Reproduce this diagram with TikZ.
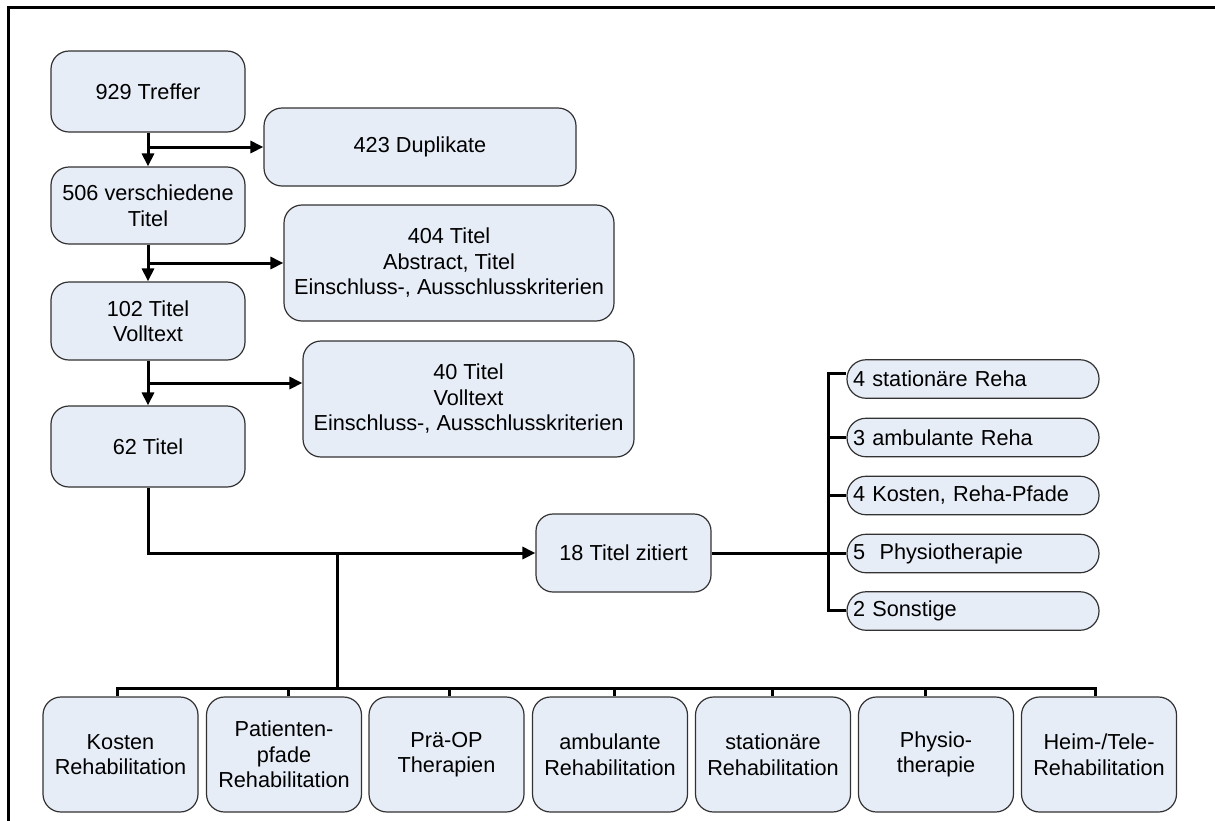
\documentclass[tikz,border=0pt]{standalone}
\usepackage{fontspec}
\setmainfont{Liberation Sans}
\usetikzlibrary{arrows.meta}
\definecolor{boxfill}{RGB}{231,237,247}
\definecolor{boxline}{RGB}{50,50,50}
\begin{document}
\begin{tikzpicture}[x=1pt,y=-1pt,
  box/.style={draw=boxline, line width=1.2pt, fill=boxfill, rounded corners=18pt,
    align=center, inner sep=0pt, font=\fontsize{21.7}{25.5}\selectfont},
  pill/.style={box, rounded corners=19pt, text width=240pt, align=left,
    inner xsep=6pt, minimum height=38.5pt},
  bot/.style={box, minimum width=155pt, minimum height=115pt},
  conn/.style={line width=3pt, black},
  arr/.style={conn, -{Triangle[length=13pt,width=12pt]}}
]
\useasboundingbox (0,0) rectangle (1215,820);
\draw[line width=3pt] (8.3,830) -- (8.3,7.8) -- (1225,7.8);

% main column
\node[box, minimum width=194pt, minimum height=81pt] (t929) at (148,91.5) {929 Treffer};
\node[box, minimum width=194pt, minimum height=77pt] (t506) at (148,205.5) {506 verschiedene\\Titel};
\node[box, minimum width=194pt, minimum height=78pt] (t102) at (148,321) {102 Titel\\Volltext};
\node[box, minimum width=194pt, minimum height=81pt] (t62) at (148,446.5) {62 Titel};

% excluded
\node[box, minimum width=312pt, minimum height=78pt] (dup) at (420,147) {423 Duplikate};
\node[box, minimum width=330pt, minimum height=116pt] (t404) at (449,263) {404 Titel\\Abstract, Titel\\Einschluss-, Ausschlusskriterien};
\node[box, minimum width=331pt, minimum height=116pt] (t40) at (468.5,399) {40 Titel\\Volltext\\Einschluss-, Ausschlusskriterien};

% cited
\node[box, rounded corners=17pt, minimum width=175pt, minimum height=78pt] (t18) at (623.5,553) {18 Titel zitiert};

% right list
\node[pill] (r1) at (973,379) {4 stationäre Reha};
\node[pill] (r2) at (973,437.5) {3 ambulante Reha};
\node[pill] (r3) at (973,495.5) {4 Kosten, Reha-Pfade};
\node[pill] (r4) at (973,553.5) {5\ \ Physiotherapie};
\node[pill] (r5) at (973,611) {2 Sonstige};

% bottom categories
\node[bot] (b1) at (120.5,754.5) {Kosten\\Rehabilitation};
\node[bot] (b2) at (284,754.5) {Patienten-\\pfade\\Rehabilitation};
\node[bot] (b3) at (446.5,754.5) {Prä-OP\\Therapien};
\node[bot] (b4) at (610,754.5) {ambulante\\Rehabilitation};
\node[bot] (b5) at (773,754.5) {stationäre\\Rehabilitation};
\node[bot] (b6) at (936,754.5) {Physio-\\therapie};
\node[bot] (b7) at (1099,754.5) {Heim-/Tele-\\Rehabilitation};

% flow connectors
\draw[arr] (t929.south) -- (t506.north);
\draw[arr] (t929.south |- dup.west) -- (dup.west);
\draw[arr] (t506.south) -- (t102.north);
\draw[arr] (t506.south |- t404.west) -- (t404.west);
\draw[arr] (t102.south) -- (t62.north);
\draw[arr] ([yshift=16pt]t40.west -| t102.south) -- ([yshift=16pt]t40.west);
\draw[arr] (t62.south) |- (t18.west);

% right bus
\coordinate (rb) at (828,553);
\draw[conn] (t18.east) -- (rb);
\draw[conn] (rb) |- ([yshift=6pt]r1.west);
\draw[conn] (rb) |- (r2.west);
\draw[conn] (rb) |- (r3.west);
\draw[conn] (rb) |- (r4.west);
\draw[conn] (rb) |- ([yshift=1pt]r5.west);

% bottom bus
\coordinate (jn) at (337,553);
\coordinate (bus) at (337,688);
\draw[conn] (jn) -- (bus);
\draw[conn] (bus) -| ([xshift=-3.5pt]b1.north);
\draw[conn] (bus) -| ([xshift=4pt]b2.north);
\draw[conn] (bus) -| ([xshift=2.5pt]b3.north);
\draw[conn] (bus) -| ([xshift=4pt]b4.north);
\draw[conn] (bus) -| ([xshift=-1pt]b5.north);
\draw[conn] (bus) -| ([xshift=-11pt]b6.north);
\draw[conn] (bus) -| ([xshift=-4pt]b7.north);
\end{tikzpicture}
\end{document}
